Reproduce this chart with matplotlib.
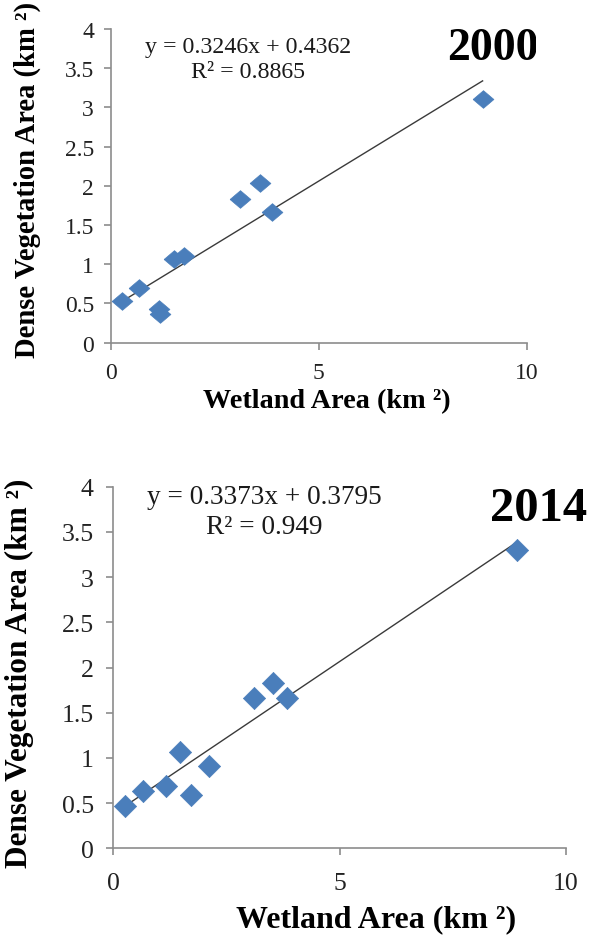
import matplotlib
matplotlib.use("Agg")
import matplotlib.pyplot as plt
import numpy as np
from matplotlib.transforms import Bbox, TransformedBbox

# ---------------- data ----------------
wet_2000 = [0.27, 0.68, 1.15, 1.18, 1.52, 1.75, 3.10, 3.59, 3.87, 8.94]
veg_2000 = [0.53, 0.69, 0.43, 0.36, 1.06, 1.11, 1.83, 2.03, 1.66, 3.11]
slope_2000, icpt_2000 = 0.3246, 0.4362
eq_2000 = "y = 0.3246x + 0.4362"
r2_2000 = "R² = 0.8865"

wet_2014 = [0.26, 0.65, 1.17, 1.47, 1.71, 2.11, 3.11, 3.52, 3.84, 8.92]
veg_2014 = [0.47, 0.63, 0.69, 1.06, 0.59, 0.91, 1.66, 1.83, 1.66, 3.30]
slope_2014, icpt_2014 = 0.3373, 0.3795
eq_2014 = "y = 0.3373x + 0.3795"
r2_2014 = "R² = 0.949"

x_ticks = [0, 5, 10]
y_ticks = [0, 0.5, 1, 1.5, 2, 2.5, 3, 3.5, 4]
y_ticklabels = ["0", "0.5", "1", "1.5", "2", "2.5", "3", "3.5", "4"]
x_label = "Wetland Area (km ²)"
y_label = "Dense Vegetation Area (km ²)"

W, H = 596, 937
DPI = 100
SERIF = ["Liberation Serif", "DejaVu Serif"]
BLUE = "#4A7EBB"
AXC = "#8C8C8C"

fig = plt.figure(figsize=(W / DPI, H / DPI), dpi=DPI)
fig.patch.set_facecolor("white")


def fx(x):
    return x / W


def fy(y):
    return 1 - y / H


def make_panel(rect_px, wet, veg, slope, icpt, tick_fs, xpad, ypad, marker, ms):
    l, t, r, b = rect_px
    ax = fig.add_axes([fx(l), fy(b), (r - l) / W, (b - t) / H])
    ax.set_xlim(0, 10)
    ax.set_ylim(0, 4)
    for s in ["top", "right"]:
        ax.spines[s].set_visible(False)
    for s in ["left", "bottom"]:
        ax.spines[s].set_color(AXC)
        ax.spines[s].set_linewidth(1.2)
    ax.set_xticks(x_ticks)
    ax.set_xticklabels([str(v) for v in x_ticks])
    ax.set_yticks(y_ticks)
    ax.set_yticklabels(y_ticklabels)
    ax.tick_params(axis="both", direction="out", length=5, width=1.2, color=AXC,
                   labelcolor="#222222", labelsize=tick_fs)
    ax.tick_params(axis="x", pad=xpad)
    ax.tick_params(axis="y", pad=ypad)
    for lab in ax.get_xticklabels() + ax.get_yticklabels():
        lab.set_family(SERIF)
    xs = np.array([min(wet), max(wet)])
    ax.plot(xs, slope * xs + icpt, color="#3a3a3a", lw=1.0, zorder=2)
    ax.plot(wet, veg, linestyle="none", marker=marker, markersize=ms,
            color=BLUE, markeredgecolor=BLUE, markeredgewidth=0.5, zorder=3)
    ax.patch.set_alpha(0)
    return ax


flat_diamond = [(-1, 0), (0, 0.85), (1, 0), (0, -0.85), (-1, 0)]
diamond = [(-1, 0), (0, 1), (1, 0), (0, -1), (-1, 0)]

# ---------- top panel (2000) ----------
ax1 = make_panel((110.7, 30, 526.7, 343.5), wet_2000, veg_2000, slope_2000, icpt_2000,
                 tick_fs=17, xpad=9, ypad=7, marker=flat_diamond, ms=15)
fig.text(fx(248), fy(48), eq_2000, family=SERIF, fontsize=17.2, ha="center", va="center", color="#1a1a1a")
fig.text(fx(248), fy(72), r2_2000, family=SERIF, fontsize=17.2, ha="center", va="center", color="#1a1a1a")
t2000 = fig.text(fx(447), fy(49), "2000", family=SERIF, fontsize=33, fontweight="bold",
                 ha="left", va="center", color="black")
t2000.set_clip_box(TransformedBbox(Bbox.from_extents(0, 0, fx(536), 1), fig.transFigure))
t2000.set_clip_on(True)
fig.text(fx(326.5), fy(402), x_label, family=SERIF, fontsize=20.3, fontweight="bold",
         ha="center", va="center", color="black")
fig.text(fx(27), fy(358), y_label, family=SERIF, fontsize=20.6, fontweight="bold",
         rotation=90, ha="center", va="bottom", color="black")

# ---------- bottom panel (2014) ----------
ax2 = make_panel((113.3, 487.7, 566, 849.3), wet_2014, veg_2014, slope_2014, icpt_2014,
                 tick_fs=18.5, xpad=12, ypad=9, marker=diamond, ms=16)
fig.text(fx(264), fy(498), eq_2014, family=SERIF, fontsize=19.6, ha="center", va="center", color="#1a1a1a")
fig.text(fx(264), fy(527), r2_2014, family=SERIF, fontsize=19.6, ha="center", va="center", color="#1a1a1a")
fig.text(fx(490), fy(509), "2014", family=SERIF, fontsize=35, fontweight="bold",
         ha="left", va="center", color="black")
fig.text(fx(376), fy(920), x_label, family=SERIF, fontsize=23, fontweight="bold",
         ha="center", va="center", color="black")
yl2 = fig.text(fx(19), fy(868), y_label, family=SERIF, fontsize=22.5, fontweight="bold",
               rotation=90, ha="center", va="bottom", color="black")
yl2.set_clip_box(TransformedBbox(Bbox.from_extents(0, 0, 1, fy(462)), fig.transFigure))
yl2.set_clip_on(True)

fig.savefig("out.png", dpi=DPI, facecolor="white")
